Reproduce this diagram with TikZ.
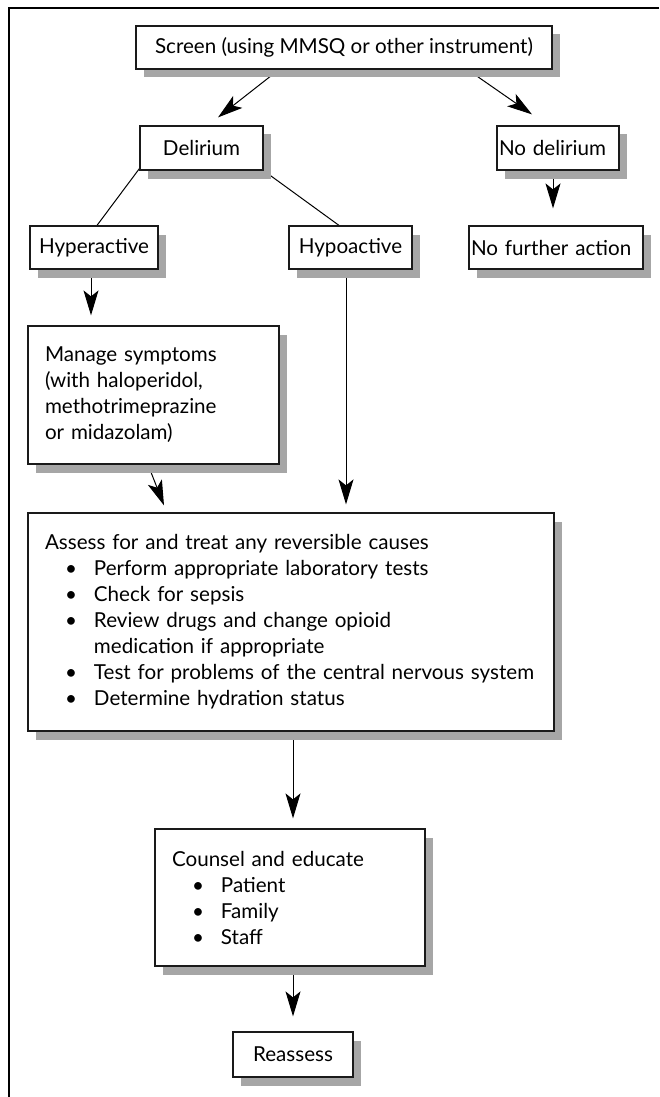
\documentclass[tikz,border=0pt]{standalone}
\usepackage{fontspec}
\setmainfont{Lato}
\usepackage{tikz}
\usetikzlibrary{arrows.meta,positioning,calc,backgrounds,shadows}
\definecolor{shadegray}{HTML}{A6A6A6}
\definecolor{edgeblk}{HTML}{1A1A1A}
\hyphenpenalty=10000
\newcommand{\bul}{\\\hspace*{10pt}\makebox[14.5pt][l]{\textbullet}}
\newcommand{\cont}{\\\hspace*{24.5pt}}
\tikzset{
  blk/.style    = {draw=edgeblk,line width=0.6pt,fill=white,inner sep=0pt,
                   font=\fontsize{10.3}{13}\selectfont,
                   drop shadow={shadow xshift=4pt,shadow yshift=-4.25pt,
                                fill=shadegray,opacity=1}},
  lblk/.style   = {blk,align=left,inner xsep=8.5pt},
  tight/.style  = {blk,align=left,inner xsep=1pt},
  sig/.style    = {-{Stealth[length=12.5pt,width=7.5pt,inset=3pt]},line width=0.5pt},
  link/.style   = {line width=0.5pt},
  frame/.style  = {line width=0.6pt},
}
\begin{document}
\begin{tikzpicture}[x=0.5pt,y=-0.5pt]
  \useasboundingbox (0,0) rectangle (659,1097);
  \draw[frame] (659,8) -- (9,8) -- (9,1097);

  % top of the tree
  \node[blk,minimum width=208pt,minimum height=21.5pt] (screen) at (344,47.5)
       {Screen (using MMSQ or other instrument)};
  \node[blk,minimum width=61.5pt,minimum height=22pt] (delir) at (201.5,148) {Delirium};
  \node[tight,text width=59pt,minimum height=22pt] (nodelir) at (558,148) {No delirium};
  \node[blk,minimum width=64pt,minimum height=21.5pt] (hyper) at (94,247.5) {Hyperactive};
  \node[blk,minimum width=61.5pt,minimum height=21.5pt] (hypo) at (350.5,247.5) {Hypoactive};
  \node[tight,text width=85pt,minimum height=21.5pt] (nofurther) at (556,247.5)
       {No further action};

  % treatment
  \node[lblk,text width=108.5pt,minimum height=69pt] (manage) at (153.5,395)
       {Manage symptoms\\(with haloperidol,\\methotrimeprazine\\or midazolam)};
  \node[lblk,text width=246pt,minimum height=109pt] (assess) at (291,622)
       {Assess for and treat any reversible causes
        \bul Perform appropriate laboratory tests
        \bul Check for sepsis
        \bul Review drugs and change opioid
        \cont medication if appropriate
        \bul Test for problems of the central nervous system
        \bul Determine hydration status};
  \node[lblk,text width=118pt,minimum height=68.5pt] (counsel) at (290,897.5)
       {Counsel and educate\bul Patient\bul Family\bul Staff};
  \node[blk,minimum width=60pt,minimum height=22.5pt] (reassess) at (293,1054.5) {Reassess};

  % connectors, behind the shadows
  \begin{scope}[on background layer]
    \draw[sig] ([shift={(-65,0)}]screen.south) -- ([shift={(16.5,-8)}]delir.north);
    \draw[sig] ([shift={(123.5,0)}]screen.south) -- ([shift={(-26,-11)}]nodelir.north);
    \draw[sig] ([shift={(-5,0)}]nodelir.south) -- ([shift={(-3,-17)}]nofurther.north);
    \draw[link] ([shift={(0,-2)}]delir.south west) -- ([shift={(3,0)}]hyper.north);
    \draw[link] (delir.south east) -- ([shift={(-11.5,0)}]hypo.north);
    \draw[sig] ([shift={(-3,0)}]hyper.south) -- ([shift={(-62.5,-10)}]manage.north);
    \draw[sig] ([shift={(-4.5,0)}]hypo.south) -- ([shift={(55,-8)}]assess.north);
    \draw[sig] ([shift={(-5.5,0)}]manage.south) -- ([shift={(-127,-7)}]assess.north);
    \draw[sig] ([shift={(2,0)}]assess.south) -- ([shift={(3,-10)}]counsel.north);
    \draw[sig] ([shift={(3,0)}]counsel.south) -- ([shift={(0,-15)}]reassess.north);
  \end{scope}
\end{tikzpicture}
\end{document}
